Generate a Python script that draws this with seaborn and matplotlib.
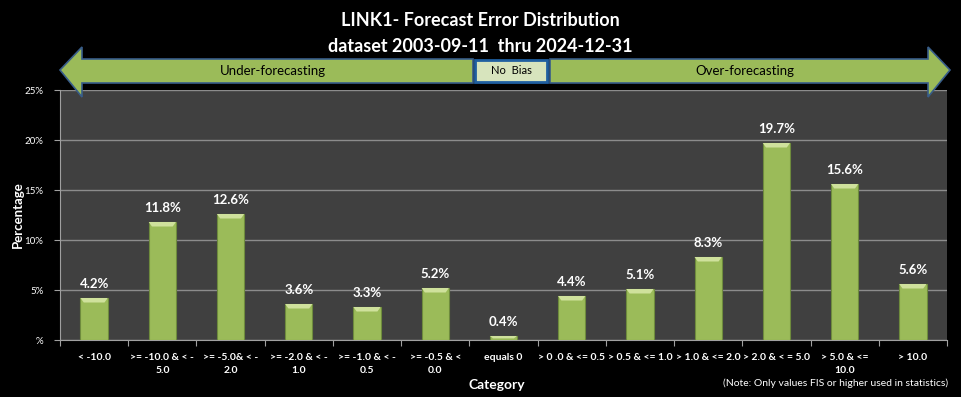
import numpy as np
import pandas as pd
import matplotlib
matplotlib.use('Agg')
import matplotlib.pyplot as plt
import seaborn as sns
from matplotlib.patches import Polygon, Rectangle
from matplotlib.ticker import FuncFormatter

# Data
categories = ['< -10.0', '>= -10.0 & < -\n5.0', '>= -5.0& < -\n2.0', '>= -2.0 & < -\n1.0',
              '>= -1.0 & < -\n0.5', '>= -0.5 & <\n0.0', 'equals 0', '> 0 .0 & <= 0.5',
              '> 0.5 & <= 1.0', '> 1.0 & <= 2.0', '> 2.0 & < = 5.0', '> 5.0 & <=\n10.0', '> 10.0']
percentages = [4.2, 11.8, 12.6, 3.6, 3.3, 5.2, 0.4, 4.4, 5.1, 8.3, 19.7, 15.6, 5.6]
yticks = [0, 5, 10, 15, 20, 25]

df = pd.DataFrame({'category': categories, 'pct': percentages})

sns.set_style('dark')
plt.rcParams['font.family'] = ['Lato', 'DejaVu Sans']

W, H = 961, 397
fig = plt.figure(figsize=(W / 100, H / 100), dpi=100, facecolor='black')


def fx(px):
    return px / W


def fy(py):
    return 1 - py / H


ax = fig.add_axes([fx(60), fy(340), fx(947) - fx(60), fy(90) - fy(340)])
ax.set_facecolor('#404040')

sns.barplot(data=df, x='category', y='pct', color='#9BBB59', width=0.4,
            edgecolor='#6E8B3D', linewidth=0.8, saturation=1, ax=ax, zorder=3)

# light bevel on top of each bar
for p in ax.patches:
    x0, w, h = p.get_x(), p.get_width(), p.get_height()
    bh = min(0.45, h * 0.6)
    ax.add_patch(Polygon([(x0, h), (x0 + w, h), (x0 + w * 0.88, h - bh), (x0 + w * 0.12, h - bh)],
                         closed=True, facecolor='#CFE19C', edgecolor='none', zorder=4))

for i, v in enumerate(percentages):
    ax.text(i, v + 0.8, f'{v:.1f}%', ha='center', va='bottom', color='white',
            fontsize=9.5, fontweight='bold', zorder=5)

ax.set_ylim(0, 25)
ax.set_xlim(-0.5, len(categories) - 0.5)
ax.set_yticks(yticks)
ax.yaxis.set_major_formatter(FuncFormatter(lambda v, _: '%' if v == 0 else f'{int(v)}%'))
ax.grid(axis='y', color='#8C8C8C', linewidth=1, zorder=0)
ax.grid(axis='x', visible=False)

ax.set_xticks(np.arange(-0.5, len(categories), 1.0))
ax.set_xticklabels([])
ax.set_xticks(np.arange(len(categories)), minor=True)
ax.set_xticklabels(categories, minor=True, fontsize=7.5, fontweight='bold', color='white',
                   linespacing=1.6)
ax.tick_params(axis='x', which='major', length=4, color='#A0A0A0', direction='out', bottom=True)
ax.tick_params(axis='x', which='minor', length=0, pad=9)
ax.tick_params(axis='y', length=4, color='#A0A0A0', labelsize=7, labelcolor='white', left=True,
               pad=8)

for s in ['top', 'right']:
    ax.spines[s].set_visible(False)
for s in ['left', 'bottom']:
    ax.spines[s].set_visible(True)
    ax.spines[s].set_color('#A0A0A0')

ax.set_xlabel('Category', color='white', fontsize=10, fontweight='bold', va='center')
ax.xaxis.set_label_coords((497 - 60) / (947 - 60), -(385 - 340) / 250)
ax.set_ylabel('Percentage', color='white', fontsize=9.5, fontweight='bold', va='center')
ax.yaxis.set_label_coords(-(60 - 18) / (947 - 60), 0.5)

# Title
fig.text(0.5, fy(20), 'LINK1- Forecast Error Distribution', ha='center', va='center',
         color='white', fontsize=13, fontweight='bold')
fig.text(0.5, fy(47), 'dataset 2003-09-11  thru 2024-12-31', ha='center', va='center',
         color='white', fontsize=13, fontweight='bold')


# Bias arrows
def pts(lst):
    return [(fx(a), fy(b)) for a, b in lst]


left_arrow = [(60, 70), (82, 47), (82, 59), (473, 59), (473, 83), (82, 83), (82, 97)]
right_arrow = [(550, 59), (928, 59), (928, 47), (950, 70), (928, 97), (928, 83), (550, 83)]
for shape in (left_arrow, right_arrow):
    fig.patches.append(Polygon(pts(shape), closed=True, transform=fig.transFigure,
                               facecolor='#9BBB59', edgecolor='#385D8A', linewidth=1.2))
fig.patches.append(Rectangle((fx(475), fy(82)), fx(547) - fx(475), fy(60) - fy(82),
                             transform=fig.transFigure, facecolor='#D7E4BD',
                             edgecolor='#1F5FA0', linewidth=2))

fig.text(fx(273), fy(71), 'Under-forecasting', ha='center', va='center', color='black', fontsize=9.5)
fig.text(fx(511), fy(71), 'No  Bias', ha='center', va='center', color='black', fontsize=8)
fig.text(fx(745), fy(71), 'Over-forecasting', ha='center', va='center', color='black', fontsize=9.5)

fig.text(fx(948), fy(383), '(Note: Only values FIS or higher used in statistics)', ha='right',
         va='center', color='white', fontsize=7.5)

fig.savefig('out.png', dpi=100, facecolor='black')
